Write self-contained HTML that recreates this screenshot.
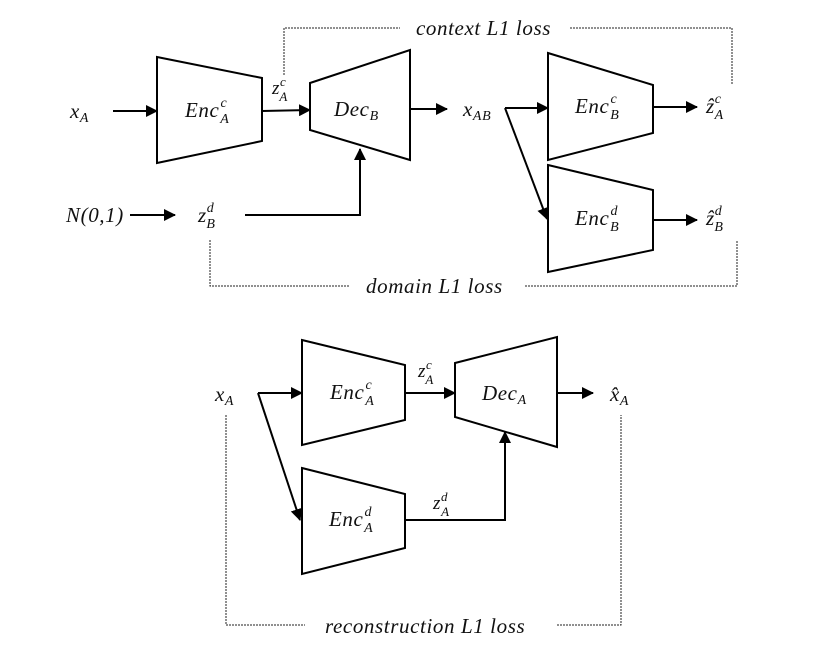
<!DOCTYPE html>
<html><head><style>
body{margin:0;background:#fff;}
svg text{font-family:"Liberation Serif",serif;font-style:italic;fill:#111;letter-spacing:0.6px;}
</style></head><body>
<svg width="830" height="652" viewBox="0 0 830 652" xmlns="http://www.w3.org/2000/svg">
<defs><marker id="a" markerWidth="12" markerHeight="12" refX="11" refY="6" orient="auto" markerUnits="userSpaceOnUse"><path d="M0,0 L12,6 L0,12z" fill="#000"/></marker></defs>
<g fill="none" stroke="#000" stroke-width="2">
<polygon points="157,57 262,78 262,141 157,163"/>
<polygon points="310,83 410,50 410,160 310,130"/>
<polygon points="548,53 653,85 653,133 548,160"/>
<polygon points="548,165 653,190 653,250 548,272"/>
<polygon points="302,340 405,365 405,420 302,445"/>
<polygon points="455,363 557,337 557,447 455,417"/>
<polygon points="302,468 405,494 405,548 302,574"/>
<g marker-end="url(#a)">
<line x1="113" y1="111" x2="157" y2="111"/>
<line x1="262" y1="111" x2="310" y2="110"/>
<line x1="410" y1="109" x2="447" y2="109"/>
<line x1="505" y1="108" x2="548" y2="108"/>
<line x1="505" y1="108" x2="547" y2="219"/>
<line x1="653" y1="107" x2="697" y2="107"/>
<line x1="653" y1="220" x2="697" y2="220"/>
<line x1="130" y1="215" x2="175" y2="215"/>
<polyline points="245,215 360,215 360,149"/>
<line x1="258" y1="393" x2="302" y2="393"/>
<line x1="258" y1="393" x2="300" y2="520"/>
<line x1="405" y1="393" x2="455" y2="393"/>
<line x1="557" y1="393" x2="593" y2="393"/>
<polyline points="405,520 505,520 505,432"/>
</g>
</g>
<g fill="none" stroke="#222" stroke-width="1" stroke-dasharray="2,1">
<polyline points="284,75 284,28 400,28"/>
<polyline points="570,28 732,28 732,85"/>
<polyline points="210,240 210,286 350,286"/>
<polyline points="525,286 737,286 737,240"/>
<polyline points="226,415 226,625 305,625"/>
<polyline points="557,625 621,625 621,415"/>
</g>
<g font-size="21">
<text x="70" y="118">x<tspan font-size="14" dy="4">A</tspan></text>
<text x="185" y="117">Enc<tspan font-size="14" dx="1" dy="-10">c</tspan><tspan font-size="14" dx="-7" dy="16">A</tspan></text>
<text x="272" y="94" font-size="19">z<tspan font-size="13" dy="-8">c</tspan><tspan font-size="13" dx="-7" dy="15">A</tspan></text>
<text x="334" y="116">Dec<tspan font-size="14" dy="4">B</tspan></text>
<text x="463" y="116">x<tspan font-size="14" dy="4">AB</tspan></text>
<text x="575" y="113">Enc<tspan font-size="14" dx="1" dy="-10">c</tspan><tspan font-size="14" dx="-7" dy="16">B</tspan></text>
<text x="706" y="113">ẑ<tspan font-size="14" dy="-10">c</tspan><tspan font-size="14" dx="-7" dy="16">A</tspan></text>
<text x="575" y="225">Enc<tspan font-size="14" dx="1" dy="-10">d</tspan><tspan font-size="14" dx="-8" dy="16">B</tspan></text>
<text x="706" y="225">ẑ<tspan font-size="14" dy="-10">d</tspan><tspan font-size="14" dx="-8" dy="16">B</tspan></text>
<text x="66" y="222">N(0,1)</text>
<text x="198" y="222">z<tspan font-size="14" dy="-10">d</tspan><tspan font-size="14" dx="-8" dy="16">B</tspan></text>
<text x="416" y="35">context L1 loss</text>
<text x="366" y="293">domain L1 loss</text>
<text x="215" y="401">x<tspan font-size="14" dy="4">A</tspan></text>
<text x="330" y="399">Enc<tspan font-size="14" dx="1" dy="-10">c</tspan><tspan font-size="14" dx="-7" dy="16">A</tspan></text>
<text x="418" y="377" font-size="19">z<tspan font-size="13" dy="-8">c</tspan><tspan font-size="13" dx="-7" dy="15">A</tspan></text>
<text x="482" y="400">Dec<tspan font-size="14" dy="4">A</tspan></text>
<text x="610" y="401">x̂<tspan font-size="14" dy="4">A</tspan></text>
<text x="329" y="526">Enc<tspan font-size="14" dx="1" dy="-10">d</tspan><tspan font-size="14" dx="-8" dy="16">A</tspan></text>
<text x="433" y="509" font-size="19">z<tspan font-size="13" dy="-8">d</tspan><tspan font-size="13" dx="-7" dy="15">A</tspan></text>
<text x="325" y="633">reconstruction L1 loss</text>
</g>
</svg>
</body></html>
